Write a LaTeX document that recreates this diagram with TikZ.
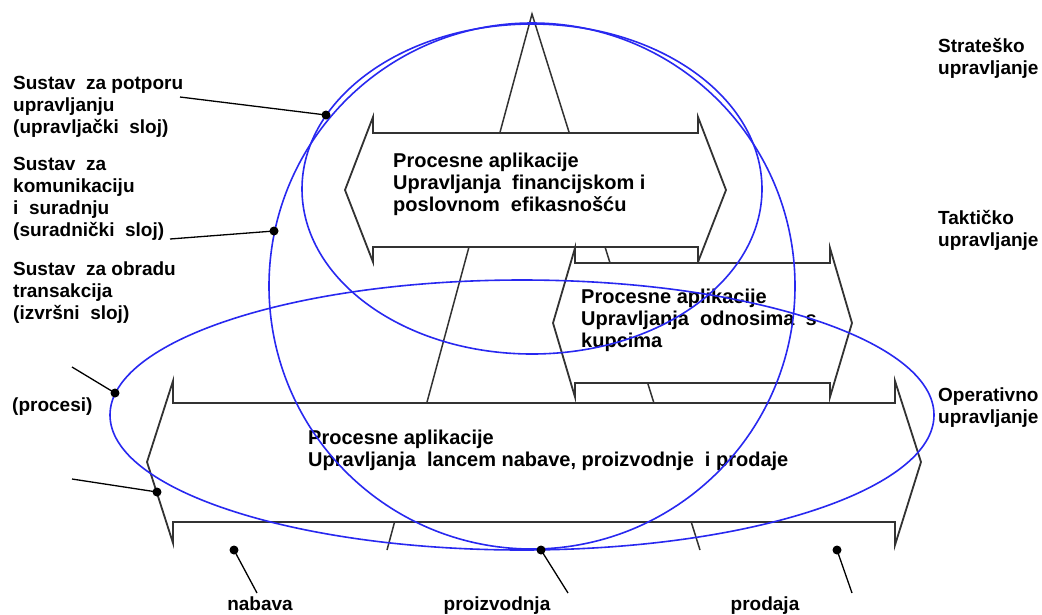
\documentclass[tikz,border=0pt]{standalone}
\usepackage{fontspec}
\setmainfont{Liberation Sans}
\definecolor{laybl}{RGB}{40,40,240}
\definecolor{ink}{RGB}{50,50,50}
\begin{document}
\begin{tikzpicture}[x=1pt,y=-1pt,
  shell/.style={draw=ink, line width=1.8pt, fill=white, line join=miter},
  leg/.style={draw=ink, line width=1.5pt},
  layer/.style={draw=laybl, line width=1.6pt},
  txt/.style={font=\bfseries\fontsize{19}{22}\selectfont, align=left, inner sep=0pt, anchor=north west},
  atxt/.style={font=\bfseries\fontsize{20}{22}\selectfont, align=left, inner sep=0pt, anchor=north west},
  btxt/.style={font=\bfseries\fontsize{19}{22}\selectfont, inner sep=0pt, anchor=north},
  dot/.style={circle, fill=black, inner sep=0pt, minimum size=9pt},
  lead/.style={draw=black, line width=1.3pt}]
\useasboundingbox (0,0) rectangle (1042,614);
\fill[white] (0,0) rectangle (1042,614);

% triangle legs
\coordinate (apex) at (532,14);
\coordinate (footL) at (387,550);
\coordinate (footR) at (700,550);
\draw[leg] (footL) -- (apex) -- (footR);

% strategic arrow
\draw[shell] (373,133) -- (373,117) -- (345,190) -- (373,262) -- (373,247) -- (698,247) -- (698,262) -- (726,190) -- (698,117) -- (698,133) -- cycle;
% customer arrow
\draw[shell] (575,263) -- (575,248) -- (553,323) -- (575,397) -- (575,383) -- (830,383) -- (830,397) -- (852,323) -- (830,248) -- (830,263) -- cycle;
% supply chain arrow
\draw[shell] (173,403) -- (173,381) -- (147,462) -- (173,543) -- (173,522) -- (895,522) -- (895,545) -- (921,462) -- (895,381) -- (895,403) -- cycle;

% arrow texts
\node[atxt] (tstrat) at (393,153) {Procesne aplikacije\\Upravljanja\ \ financijskom i\\poslovnom\ \ efikasnošću};
\node[atxt] (tcust) at (581,289) {Procesne aplikacije\\Upravljanja\ \ odnosima\ \ s\\kupcima};
\node[atxt] (tsupply) at (308,430) {Procesne aplikacije\\Upravljanja\ \ lancem nabave, proizvodnje\ \ i prodaje};

% left labels
\node[txt] (lupr) at (13,76) {Sustav\ \ za potporu\\upravljanju\\(upravljački\ \ sloj)};
\node[txt] (lsur) at (13,157) {Sustav\ \ za\\komunikaciju\\i\ \ suradnju\\(suradnički\ \ sloj)};
\node[txt] (lizv) at (13,262) {Sustav\ \ za obradu\\transakcija\\(izvršni\ \ sloj)};
\node[txt] (lproc) at (12,398) {(procesi)};

% right labels
\node[txt] (rstrat) at (938,38) {Strateško\\upravljanje};
\node[txt] (rtakt) at (938,210) {Taktičko\\upravljanje};
\node[txt] (roper) at (938,388) {Operativno\\upravljanje};

% bottom labels
\node[btxt] (bnab) at (260,597) {nabava};
\node[btxt] (bpro) at (497,597) {proizvodnja};
\node[btxt] (bprod) at (765,597) {prodaja};

% layers (ellipses)
\draw[layer] (532,189) ellipse [x radius=230pt, y radius=165pt];
\draw[layer] (532,286) ellipse [x radius=263pt, y radius=263pt];
\draw[layer] (522,415) ellipse [x radius=412pt, y radius=135pt];

% dots
\node[dot] (d1) at (326,115) {};
\node[dot] (d2) at (274,231) {};
\node[dot] (d3) at (115,393) {};
\node[dot] (d4) at (157,492) {};
\node[dot] (d5) at (234,550) {};
\node[dot] (d6) at (541,550) {};
\node[dot] (d7) at (837,550) {};

% leader ends
\coordinate (e1) at (180,97);
\coordinate (e2) at (170,239);
\coordinate (e3) at (72,367);
\coordinate (e4) at (72,479);
\coordinate (e5) at (257,593);
\coordinate (e6) at (568,593);
\coordinate (e7) at (852,593);

\draw[lead] (e1) -- (d1.center);
\draw[lead] (e2) -- (d2.center);
\draw[lead] (e3) -- (d3.center);
\draw[lead] (e4) -- (d4.center);
\draw[lead] (d5.center) -- (e5);
\draw[lead] (d6.center) -- (e6);
\draw[lead] (d7.center) -- (e7);
\end{tikzpicture}
\end{document}
